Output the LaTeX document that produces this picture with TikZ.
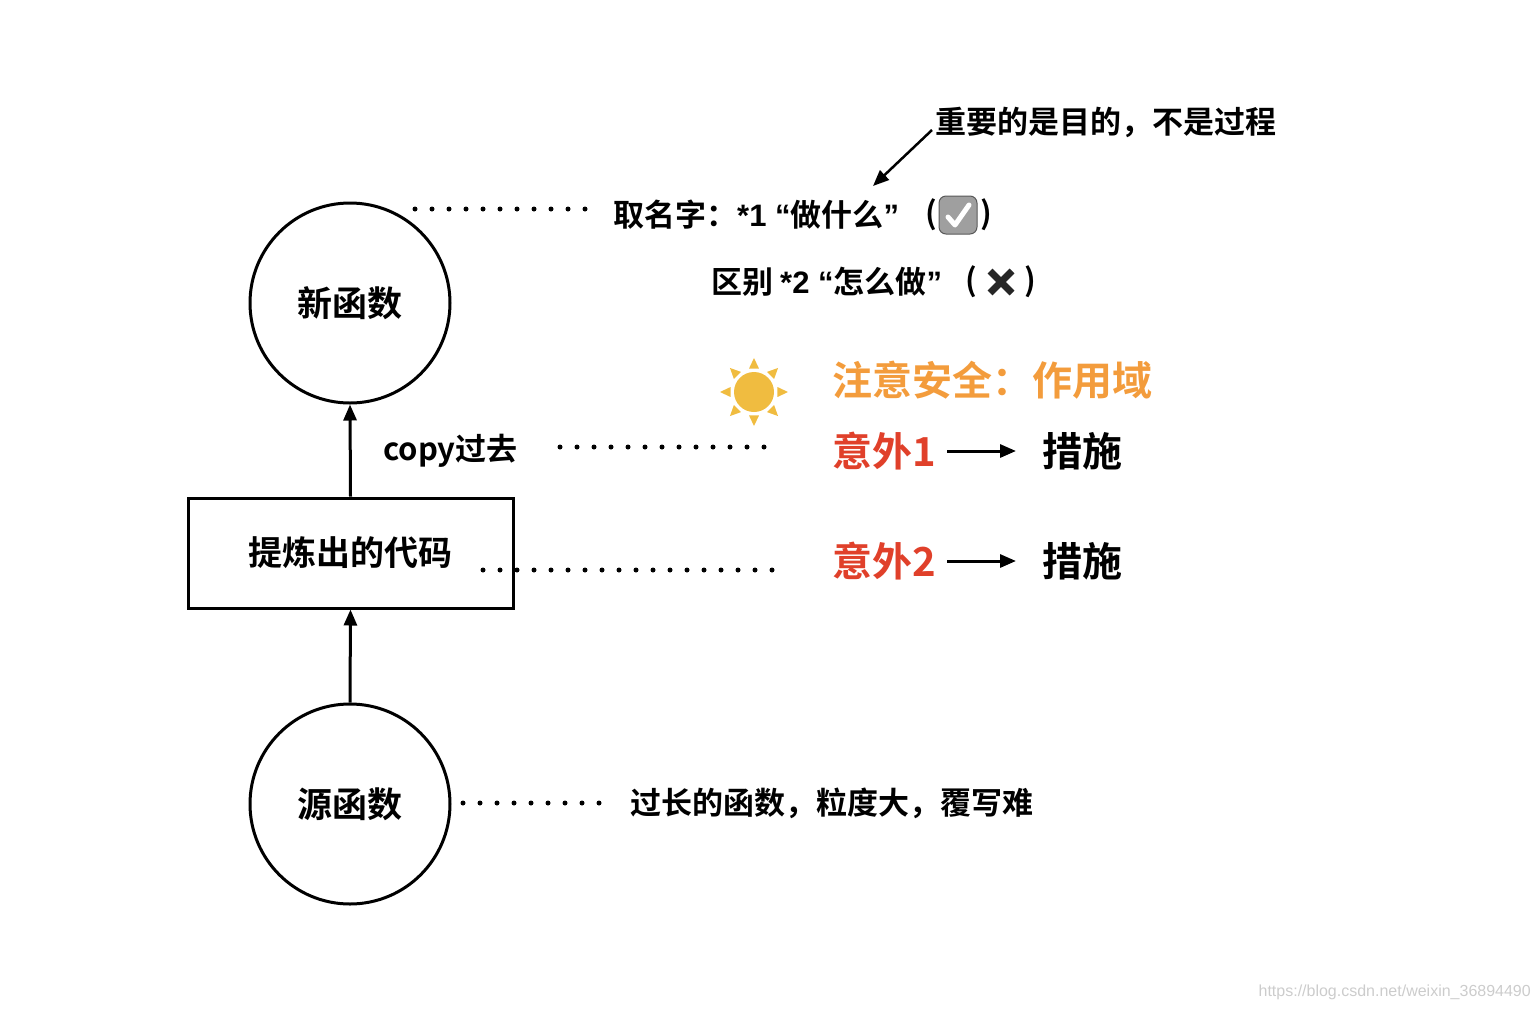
\documentclass[tikz,border=0pt]{standalone}
\usepackage{fontspec}
\setmainfont{Noto Sans CJK SC Bold}
\newfontfamily\lat{Liberation Sans Bold}
\usetikzlibrary{arrows.meta,calc}
\definecolor{orng}{HTML}{F39C3C}
\definecolor{rd}{HTML}{E0402A}
\definecolor{sun}{HTML}{F0BC40}
\begin{document}
\begin{tikzpicture}[x=1pt,y=-1pt,
  circ/.style={draw,circle,line width=3pt,minimum size=200pt,inner sep=0pt,font=\fontsize{35}{40}\selectfont},
  box/.style={draw,line width=3pt,minimum width=325pt,minimum height=110pt,inner sep=0pt,font=\fontsize{34}{38}\selectfont},
  dots/.style={line width=5pt,line cap=round,dash pattern=on 0pt off 17pt},
  arr/.style={line width=3pt,-{Triangle[length=16pt,width=13pt]}},
  txt/.style={anchor=west,inner sep=0pt,font=\fontsize{31}{36}\selectfont},
  big/.style={anchor=west,inner sep=0pt,font=\fontsize{40}{46}\selectfont}]
\useasboundingbox (0,0) rectangle (1540,1010);
\node[circ] (new) at (350,303) {新函数};
\node[box] (code) at (350.5,553) {提炼出的代码};
\node[circ] (src) at (350,804) {源函数};
\draw[arr] (code.north) -- (new.south);
\draw[arr] (src.north) -- (code.south);
\coordinate (d1a) at (415,209); \coordinate (d1b) at (585,209);
\coordinate (d2a) at (560,447); \coordinate (d2b) at (780,447);
\coordinate (d3a) at (483,570); \coordinate (d3b) at (775,570);
\coordinate (d4a) at (463,803); \coordinate (d4b) at (612,803);
\draw[dots] (d1a) -- (d1b); \draw[dots] (d2a) -- (d2b);
\draw[dots] (d3a) -- (d3b); \draw[dots] (d4a) -- (d4b);
\node[txt] (t1) at (613,215) {取名字：{\lat *1 “}做什么{\lat ”}};
\node[txt] (p1) at (925,215) {(};
\node[draw=gray!70!black,fill=gray!75,rounded corners=7pt,minimum size=38pt,inner sep=0pt,line width=1pt] (chk) at (958,215) {};
\draw[white,line width=5pt,line cap=round,line join=round] ($(chk.center)+(-10,2)$) -- ++(7,8) -- ++(14,-20);
\node[txt] (t1b) at (980,215) {)};
\node[txt] (t2) at (711,282) {区别 {\lat *2 “}怎么做{\lat ”}};
\node[txt] (p2) at (965,282) {(};
\node[txt] (p3) at (1024,282) {)};
\coordinate (xc) at (1001,282);
\draw[gray!30!black,line width=7pt] ($(xc)+(-11,-11)$) -- ($(xc)+(11,11)$) ($(xc)+(-11,11)$) -- ($(xc)+(11,-11)$);
\node[txt] (top) at (935,122) {重要的是目的，不是过程};
\coordinate (ta) at (932,130); \coordinate (tb) at (873,186);
\draw[line width=2.5pt,-{Triangle[length=16pt,width=13pt]}] (ta) -- (tb);
\node[circle,fill=sun,minimum size=40pt,inner sep=0pt] (s) at (754,392) {};
\foreach \a in {0,45,...,315}{
  \fill[sun] ($(s.center)+(\a:34)$) -- ($(s.center)+(\a+12:24)$) -- ($(s.center)+(\a-12:24)$) -- cycle;}
\node[big,text=orng] (att) at (832,380) {注意安全：作用域};
\node[big,text=rd] (e1) at (832,451) {意外1};
\node[big] (m1) at (1042,451) {措施};
\node[big,text=rd] (e2) at (832,561) {意外2};
\node[big] (m2) at (1042,561) {措施};
\coordinate (a1s) at (947,451); \coordinate (a1e) at (1016,451);
\coordinate (a2s) at (947,561); \coordinate (a2e) at (1016,561);
\draw[arr] (a1s) -- (a1e);
\draw[arr] (a2s) -- (a2e);
\node[txt] (cp) at (383,451) {copy过去};
\node[txt] (long) at (630,803) {过长的函数，粒度大，覆写难};
\node[anchor=east,inner sep=0pt,text=gray!40,font=\fontspec{Liberation Sans}\fontsize{16}{18}\selectfont] (wm) at (1531,992) {https://blog.csdn.net/weixin\_36894490};
\end{tikzpicture}
\end{document}
